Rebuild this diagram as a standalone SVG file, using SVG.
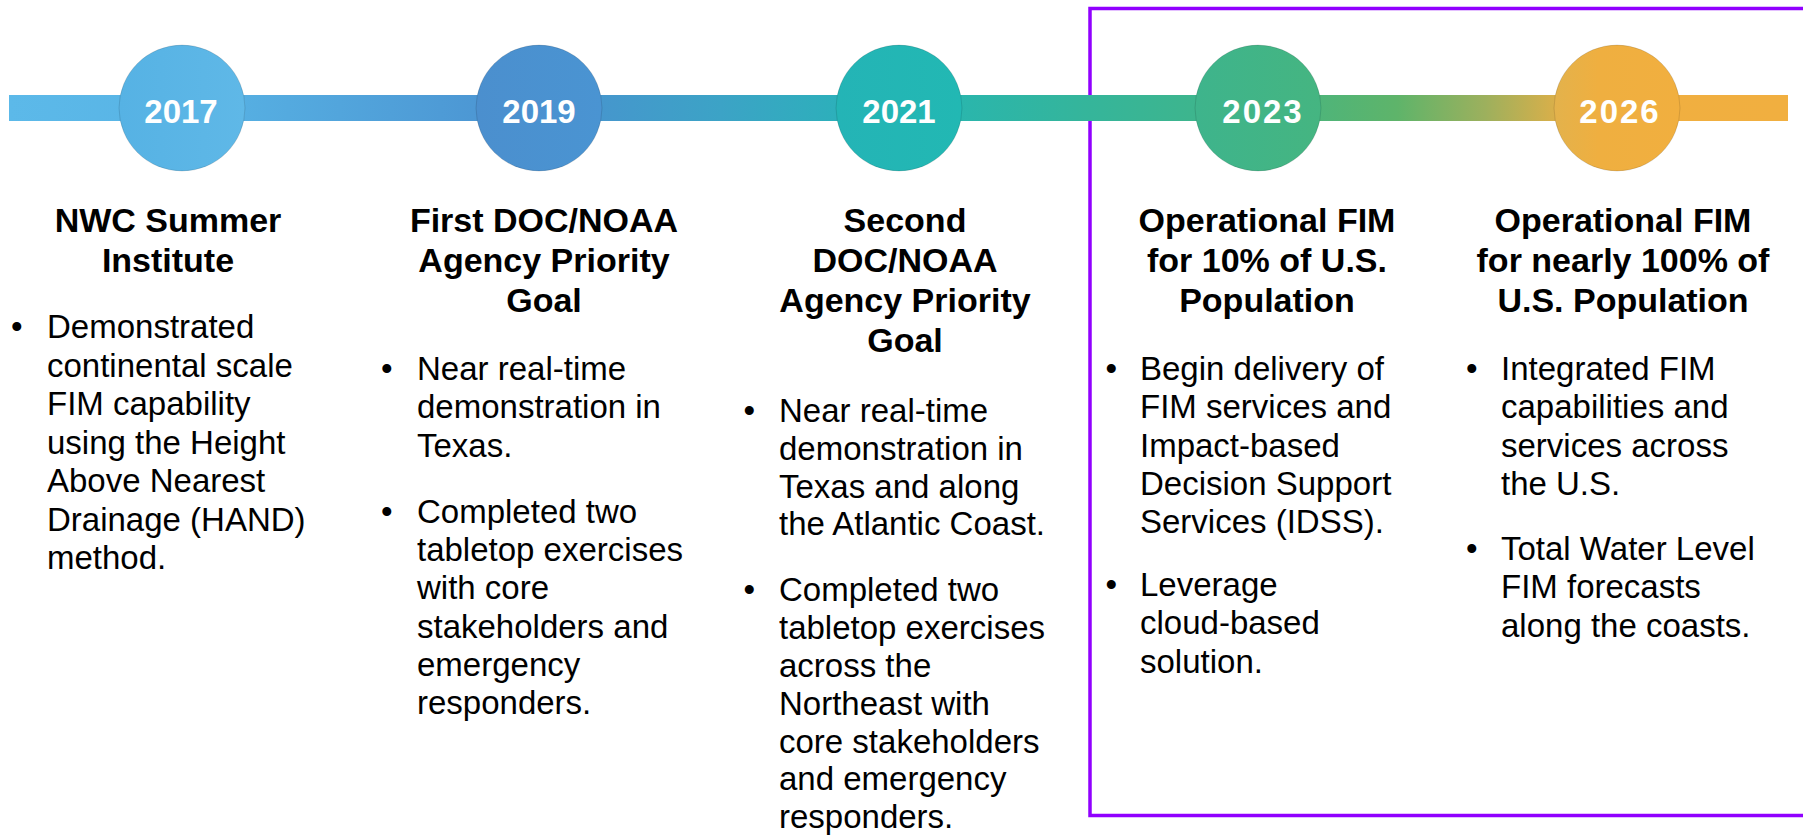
<svg xmlns="http://www.w3.org/2000/svg" width="1803" height="835" viewBox="0 0 1803 835">
  <defs>
    <linearGradient id="barGrad" gradientUnits="userSpaceOnUse" x1="9" y1="0" x2="1788" y2="0">
      <stop offset="0" stop-color="#5CB9E9"/>
      <stop offset="0.1" stop-color="#58B4E5"/>
      <stop offset="0.3" stop-color="#4A91D0"/>
      <stop offset="0.4" stop-color="#3CA3C6"/>
      <stop offset="0.5" stop-color="#25B6B5"/>
      <stop offset="0.6" stop-color="#34B59C"/>
      <stop offset="0.7" stop-color="#42B586"/>
      <stop offset="0.78" stop-color="#5EB46A"/>
      <stop offset="0.83" stop-color="#9DB05D"/>
      <stop offset="0.875" stop-color="#E2AF47"/>
      <stop offset="0.91" stop-color="#F0AF40"/>
      <stop offset="1" stop-color="#F1AF40"/>
    </linearGradient>
    <linearGradient id="g2017" x1="0" y1="0" x2="1" y2="0">
      <stop offset="0" stop-color="#56B2E4"/>
      <stop offset="1" stop-color="#5FB8E7"/>
    </linearGradient>
    <linearGradient id="g2019" x1="0" y1="0" x2="1" y2="0">
      <stop offset="0" stop-color="#4B8FCE"/>
      <stop offset="1" stop-color="#4A94D2"/>
    </linearGradient>
    <linearGradient id="g2021" x1="0" y1="0" x2="1" y2="0">
      <stop offset="0" stop-color="#24B4B6"/>
      <stop offset="1" stop-color="#22B8B3"/>
    </linearGradient>
    <linearGradient id="g2023" x1="0" y1="0" x2="1" y2="0">
      <stop offset="0" stop-color="#3EB48C"/>
      <stop offset="1" stop-color="#45B581"/>
    </linearGradient>
    <linearGradient id="g2026" x1="0" y1="0" x2="1" y2="0">
      <stop offset="0" stop-color="#E3B24C"/>
      <stop offset="0.35" stop-color="#EFAF40"/>
      <stop offset="1" stop-color="#F1AF3F"/>
    </linearGradient>
  </defs>
  <style>
    .year { font-family: "Liberation Sans", Arial, sans-serif; font-weight: bold; font-size: 33px; fill: #FFFFFF; text-anchor: middle; }
    .yearw { letter-spacing: 2px; }
    .title { font-family: "Liberation Sans", Arial, sans-serif; font-weight: bold; font-size: 34px; fill: #000000; text-anchor: middle; }
    .body { font-family: "Liberation Sans", Arial, sans-serif; font-size: 33px; fill: #000000; }
    .dot { stroke: #000000; stroke-opacity: 0.12; stroke-width: 1; }
    .frame { fill: none; stroke: #9100FF; stroke-width: 3.5; }
  </style>

  <rect x="0" y="0" width="1803" height="835" fill="#FFFFFF"/>

  <g id="highlight-frame">
    <rect class="frame" x="1090" y="8.5" width="720" height="807"/>
  </g>

  <g id="connectors">
    <rect x="9" y="95" width="1779" height="26" fill="url(#barGrad)"/>
  </g>

  <g id="node-2017">
    <circle class="dot" cx="182" cy="108" r="63" fill="url(#g2017)"/>
    <text class="year" x="181" y="123">2017</text>
    <text class="title" x="168" y="232">NWC Summer</text>
    <text class="title" x="168" y="272">Institute</text>
    <text class="body" x="11" y="338">•</text>
    <text class="body" x="47" y="338">Demonstrated</text>
    <text class="body" x="47" y="376.5">continental scale</text>
    <text class="body" x="47" y="415">FIM capability</text>
    <text class="body" x="47" y="453.5">using the Height</text>
    <text class="body" x="47" y="492">Above Nearest</text>
    <text class="body" x="47" y="530.5">Drainage (HAND)</text>
    <text class="body" x="47" y="569">method.</text>
  </g>

  <g id="node-2019">
    <circle class="dot" cx="539" cy="108" r="63" fill="url(#g2019)"/>
    <text class="year" x="539" y="123">2019</text>
    <text class="title" x="544" y="232">First DOC/NOAA</text>
    <text class="title" x="544" y="272">Agency Priority</text>
    <text class="title" x="544" y="312">Goal</text>
    <text class="body" x="381" y="380">•</text>
    <text class="body" x="417" y="380">Near real-time</text>
    <text class="body" x="417" y="418.3">demonstration in</text>
    <text class="body" x="417" y="456.6">Texas.</text>
    <text class="body" x="381" y="522.6">•</text>
    <text class="body" x="417" y="522.6">Completed two</text>
    <text class="body" x="417" y="561">tabletop exercises</text>
    <text class="body" x="417" y="599.2">with core</text>
    <text class="body" x="417" y="637.5">stakeholders and</text>
    <text class="body" x="417" y="675.8">emergency</text>
    <text class="body" x="417" y="714">responders.</text>
  </g>

  <g id="node-2021">
    <circle class="dot" cx="899" cy="108" r="63" fill="url(#g2021)"/>
    <text class="year" x="899" y="123">2021</text>
    <text class="title" x="905" y="232">Second</text>
    <text class="title" x="905" y="272">DOC/NOAA</text>
    <text class="title" x="905" y="312">Agency Priority</text>
    <text class="title" x="905" y="352">Goal</text>
    <text class="body" x="743.5" y="422">•</text>
    <text class="body" x="779" y="422">Near real-time</text>
    <text class="body" x="779" y="459.8">demonstration in</text>
    <text class="body" x="779" y="497.6">Texas and along</text>
    <text class="body" x="779" y="535.4">the Atlantic Coast.</text>
    <text class="body" x="743.5" y="601.4">•</text>
    <text class="body" x="779" y="601.4">Completed two</text>
    <text class="body" x="779" y="639.2">tabletop exercises</text>
    <text class="body" x="779" y="677">across the</text>
    <text class="body" x="779" y="714.8">Northeast with</text>
    <text class="body" x="779" y="752.6">core stakeholders</text>
    <text class="body" x="779" y="790.4">and emergency</text>
    <text class="body" x="779" y="828">responders.</text>
  </g>

  <g id="node-2023">
    <circle class="dot" cx="1258" cy="108" r="63" fill="url(#g2023)"/>
    <text class="year yearw" x="1263" y="123">2023</text>
    <text class="title" x="1267" y="232">Operational FIM</text>
    <text class="title" x="1267" y="272">for 10% of U.S.</text>
    <text class="title" x="1267" y="312">Population</text>
    <text class="body" x="1105.5" y="380">•</text>
    <text class="body" x="1140" y="380">Begin delivery of</text>
    <text class="body" x="1140" y="418.3">FIM services and</text>
    <text class="body" x="1140" y="456.6">Impact-based</text>
    <text class="body" x="1140" y="494.9">Decision Support</text>
    <text class="body" x="1140" y="533.2">Services (IDSS).</text>
    <text class="body" x="1105.5" y="596">•</text>
    <text class="body" x="1140" y="596">Leverage</text>
    <text class="body" x="1140" y="634.4">cloud-based</text>
    <text class="body" x="1140" y="672.8">solution.</text>
  </g>

  <g id="node-2026">
    <circle class="dot" cx="1617" cy="108" r="63" fill="url(#g2026)"/>
    <text class="year yearw" x="1620" y="123">2026</text>
    <text class="title" x="1623" y="232">Operational FIM</text>
    <text class="title" x="1623" y="272">for nearly 100% of</text>
    <text class="title" x="1623" y="312">U.S. Population</text>
    <text class="body" x="1466" y="380">•</text>
    <text class="body" x="1501" y="380">Integrated FIM</text>
    <text class="body" x="1501" y="418.3">capabilities and</text>
    <text class="body" x="1501" y="456.6">services across</text>
    <text class="body" x="1501" y="494.9">the U.S.</text>
    <text class="body" x="1466" y="560">•</text>
    <text class="body" x="1501" y="560">Total Water Level</text>
    <text class="body" x="1501" y="598.3">FIM forecasts</text>
    <text class="body" x="1501" y="636.6">along the coasts.</text>
  </g>
</svg>
